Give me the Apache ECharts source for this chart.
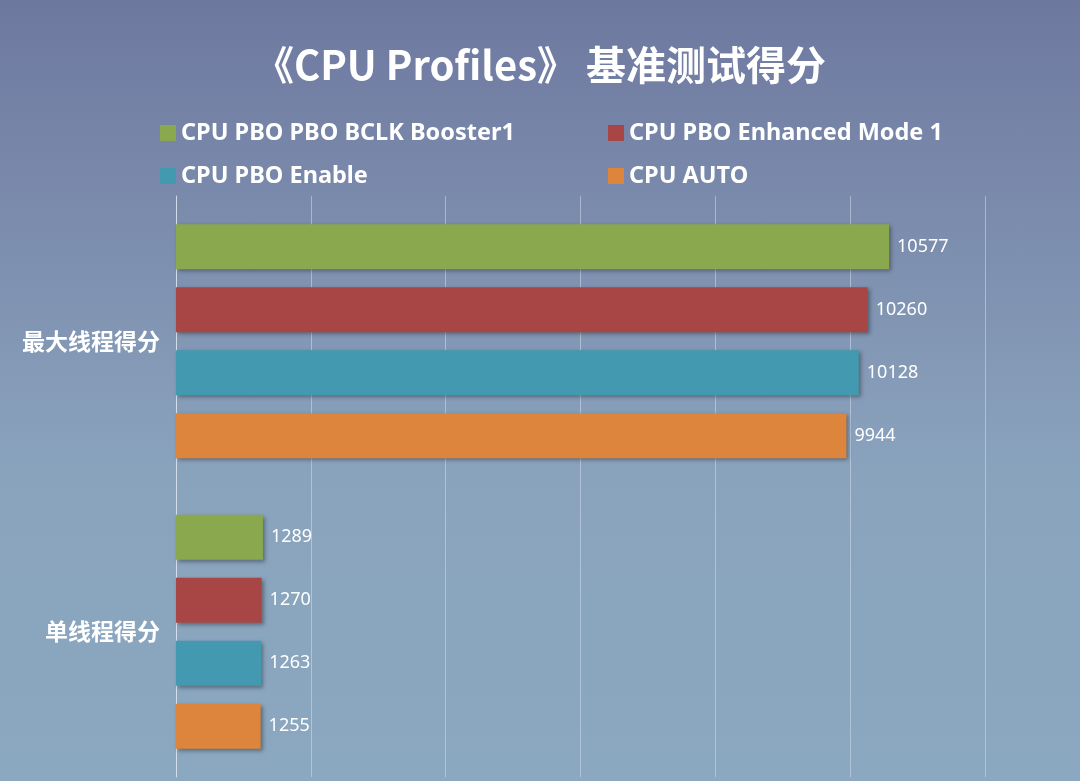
<!DOCTYPE html>
<html>
<head>
<meta charset="utf-8">
<script src="https://cdn.jsdelivr.net/npm/echarts@6/dist/echarts.min.js"></script>
<style>
html, body { margin: 0; padding: 0; }
#main { width: 1080px; height: 781px; background: linear-gradient(#6e789f, #8aa3bd 60%, #8aa8c0); }
</style>
</head>
<body>
<div id="main"></div>
<script>
var categories = ['最大线程得分', '单线程得分'];
var seriesNames = ['CPU PBO PBO BCLK Booster1', 'CPU PBO Enhanced Mode 1', 'CPU PBO Enable', 'CPU AUTO'];
var booster = [10577, 1289];
var enhanced = [10260, 1270];
var enable = [10128, 1263];
var auto = [9944, 1255];
var colors = ['#8aa94e', '#a84646', '#4399b0', '#dd853c'];

var chart = echarts.init(document.getElementById('main'));
var values = [booster, enhanced, enable, auto];
var series = [];
for (var i = 0; i < values.length; i++) {
    series.push({
        name: seriesNames[i],
        type: 'bar',
        data: values[i],
        barWidth: 45,
        barGap: '40%',
        itemStyle: {
            color: colors[i],
            shadowBlur: 4,
            shadowOffsetX: 2,
            shadowOffsetY: 2,
            shadowColor: 'rgba(0,0,0,0.35)'
        },
        label: {
            show: true,
            position: 'right',
            distance: 8,
            color: '#fff',
            fontSize: 18,
            fontFamily: 'Noto Sans'
        }
    });
}

function legendAt(left, names) {
    return {
        data: names,
        orient: 'vertical',
        left: left,
        top: 116,
        itemWidth: 16,
        itemHeight: 16,
        itemGap: 19,
        icon: 'rect',
        textStyle: { color: '#fff', fontSize: 23.5, fontWeight: 'bold', fontFamily: 'Noto Sans' }
    };
}

chart.setOption({
    title: {
        text: '《CPU Profiles》 基准测试得分',
        left: 'center',
        top: 40,
        textStyle: { color: '#fff', fontSize: 40, fontWeight: 'bold', fontFamily: 'Noto Sans CJK SC' }
    },
    legend: [
        legendAt(155, [seriesNames[0], seriesNames[2]]),
        legendAt(603, [seriesNames[1], seriesNames[3]])
    ],
    grid: { left: 176, right: 95, top: 196, bottom: 4 },
    xAxis: {
        type: 'value',
        min: 0,
        max: 12000,
        interval: 2000,
        axisLabel: { show: false },
        splitLine: { lineStyle: { color: 'rgba(210,220,235,0.55)', width: 1 } }
    },
    yAxis: {
        type: 'category',
        data: categories,
        inverse: true,
        axisTick: { show: false },
        axisLine: { lineStyle: { color: 'rgba(220,228,240,0.8)' } },
        axisLabel: { color: '#fff', fontSize: 23, fontWeight: 'bold', fontFamily: 'Noto Sans CJK SC', margin: 16 }
    },
    series: series
});
</script>
</body>
</html>
